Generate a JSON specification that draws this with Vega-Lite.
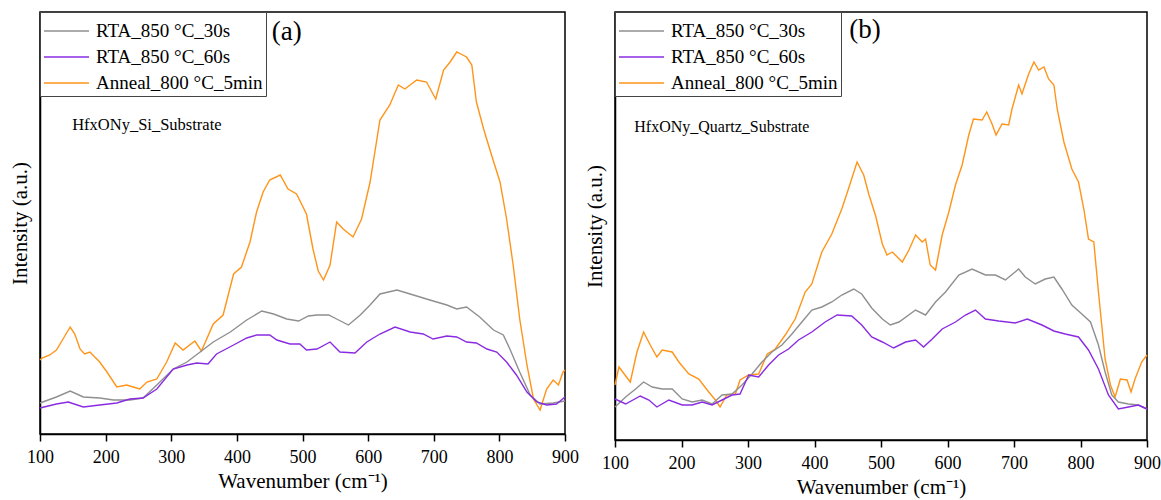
{
  "$schema": "https://vega.github.io/schema/vega-lite/v6.json",
  "padding": {"left": 8, "top": 10, "right": 2, "bottom": 4},
  "background": "white",
  "config": {
    "font": "Liberation Serif",
    "view": {"stroke": "black", "strokeWidth": 1.5},
    "axis": {"domainColor": "black", "domainWidth": 1.5, "grid": false, "labelFont": "Liberation Serif", "titleFont": "Liberation Serif", "labelColor": "black", "titleColor": "black", "titleFontWeight": "normal", "labelFontSize": 18, "titleFontSize": 21, "tickColor": "black", "tickWidth": 1.5},
    "legend": {"labelFont": "Liberation Serif", "labelFontSize": 19, "labelColor": "black", "labelLimit": 400, "symbolType": "M-1,0L2,0", "symbolSize": 900, "symbolStrokeWidth": 1.5, "symbolFillColor": "transparent", "padding": 3, "rowPadding": -3, "labelOffset": 21, "strokeColor": "#444", "fillColor": "white", "orient": "top-left", "offset": 0},
    "line": {"strokeWidth": 1.4}
  },
  "datasets": {
    "a": [
      {"s": "Anneal_800 °C_5min", "x": 100, "y": 74}, {"s": "Anneal_800 °C_5min", "x": 103, "y": 76}, {"s": "Anneal_800 °C_5min", "x": 115, "y": 79}, {"s": "Anneal_800 °C_5min", "x": 125, "y": 84}, {"s": "Anneal_800 °C_5min", "x": 136, "y": 96}, {"s": "Anneal_800 °C_5min", "x": 146, "y": 107}, {"s": "Anneal_800 °C_5min", "x": 153, "y": 100}, {"s": "Anneal_800 °C_5min", "x": 161, "y": 85}, {"s": "Anneal_800 °C_5min", "x": 168, "y": 80}, {"s": "Anneal_800 °C_5min", "x": 176, "y": 82}, {"s": "Anneal_800 °C_5min", "x": 191, "y": 72}, {"s": "Anneal_800 °C_5min", "x": 202, "y": 62}, {"s": "Anneal_800 °C_5min", "x": 217, "y": 47}, {"s": "Anneal_800 °C_5min", "x": 232, "y": 49}, {"s": "Anneal_800 °C_5min", "x": 242, "y": 47}, {"s": "Anneal_800 °C_5min", "x": 252, "y": 45}, {"s": "Anneal_800 °C_5min", "x": 263, "y": 52}, {"s": "Anneal_800 °C_5min", "x": 278, "y": 55}, {"s": "Anneal_800 °C_5min", "x": 293, "y": 72}, {"s": "Anneal_800 °C_5min", "x": 306, "y": 91}, {"s": "Anneal_800 °C_5min", "x": 318, "y": 84}, {"s": "Anneal_800 °C_5min", "x": 336, "y": 93}, {"s": "Anneal_800 °C_5min", "x": 346, "y": 83}, {"s": "Anneal_800 °C_5min", "x": 364, "y": 110}, {"s": "Anneal_800 °C_5min", "x": 379, "y": 119}, {"s": "Anneal_800 °C_5min", "x": 395, "y": 160}, {"s": "Anneal_800 °C_5min", "x": 407, "y": 167}, {"s": "Anneal_800 °C_5min", "x": 420, "y": 192}, {"s": "Anneal_800 °C_5min", "x": 430, "y": 222}, {"s": "Anneal_800 °C_5min", "x": 440, "y": 242}, {"s": "Anneal_800 °C_5min", "x": 450, "y": 254}, {"s": "Anneal_800 °C_5min", "x": 466, "y": 259}, {"s": "Anneal_800 °C_5min", "x": 478, "y": 245}, {"s": "Anneal_800 °C_5min", "x": 491, "y": 240}, {"s": "Anneal_800 °C_5min", "x": 506, "y": 220}, {"s": "Anneal_800 °C_5min", "x": 516, "y": 185}, {"s": "Anneal_800 °C_5min", "x": 524, "y": 163}, {"s": "Anneal_800 °C_5min", "x": 532, "y": 154}, {"s": "Anneal_800 °C_5min", "x": 542, "y": 169}, {"s": "Anneal_800 °C_5min", "x": 552, "y": 212}, {"s": "Anneal_800 °C_5min", "x": 562, "y": 205}, {"s": "Anneal_800 °C_5min", "x": 577, "y": 197}, {"s": "Anneal_800 °C_5min", "x": 590, "y": 215}, {"s": "Anneal_800 °C_5min", "x": 603, "y": 252}, {"s": "Anneal_800 °C_5min", "x": 618, "y": 314}, {"s": "Anneal_800 °C_5min", "x": 633, "y": 329}, {"s": "Anneal_800 °C_5min", "x": 646, "y": 349}, {"s": "Anneal_800 °C_5min", "x": 656, "y": 345}, {"s": "Anneal_800 °C_5min", "x": 664, "y": 349}, {"s": "Anneal_800 °C_5min", "x": 674, "y": 354}, {"s": "Anneal_800 °C_5min", "x": 689, "y": 352}, {"s": "Anneal_800 °C_5min", "x": 703, "y": 335}, {"s": "Anneal_800 °C_5min", "x": 715, "y": 364}, {"s": "Anneal_800 °C_5min", "x": 725, "y": 372}, {"s": "Anneal_800 °C_5min", "x": 735, "y": 382}, {"s": "Anneal_800 °C_5min", "x": 750, "y": 377}, {"s": "Anneal_800 °C_5min", "x": 758, "y": 369}, {"s": "Anneal_800 °C_5min", "x": 765, "y": 332}, {"s": "Anneal_800 °C_5min", "x": 776, "y": 305}, {"s": "Anneal_800 °C_5min", "x": 788, "y": 279}, {"s": "Anneal_800 °C_5min", "x": 801, "y": 252}, {"s": "Anneal_800 °C_5min", "x": 811, "y": 215}, {"s": "Anneal_800 °C_5min", "x": 821, "y": 169}, {"s": "Anneal_800 °C_5min", "x": 831, "y": 115}, {"s": "Anneal_800 °C_5min", "x": 842, "y": 69}, {"s": "Anneal_800 °C_5min", "x": 852, "y": 35}, {"s": "Anneal_800 °C_5min", "x": 862, "y": 24}, {"s": "Anneal_800 °C_5min", "x": 872, "y": 45}, {"s": "Anneal_800 °C_5min", "x": 882, "y": 54}, {"s": "Anneal_800 °C_5min", "x": 890, "y": 49}, {"s": "Anneal_800 °C_5min", "x": 897, "y": 62}, {"s": "Anneal_800 °C_5min", "x": 900, "y": 64},
      {"s": "RTA_850 °C_30s", "x": 100, "y": 31}, {"s": "RTA_850 °C_30s", "x": 125, "y": 37}, {"s": "RTA_850 °C_30s", "x": 146, "y": 43}, {"s": "RTA_850 °C_30s", "x": 166, "y": 37}, {"s": "RTA_850 °C_30s", "x": 191, "y": 36}, {"s": "RTA_850 °C_30s", "x": 212, "y": 34}, {"s": "RTA_850 °C_30s", "x": 237, "y": 34}, {"s": "RTA_850 °C_30s", "x": 257, "y": 36}, {"s": "RTA_850 °C_30s", "x": 278, "y": 49}, {"s": "RTA_850 °C_30s", "x": 303, "y": 65}, {"s": "RTA_850 °C_30s", "x": 324, "y": 72}, {"s": "RTA_850 °C_30s", "x": 344, "y": 82}, {"s": "RTA_850 °C_30s", "x": 364, "y": 92}, {"s": "RTA_850 °C_30s", "x": 390, "y": 102}, {"s": "RTA_850 °C_30s", "x": 415, "y": 114}, {"s": "RTA_850 °C_30s", "x": 438, "y": 123}, {"s": "RTA_850 °C_30s", "x": 456, "y": 120}, {"s": "RTA_850 °C_30s", "x": 476, "y": 115}, {"s": "RTA_850 °C_30s", "x": 494, "y": 113}, {"s": "RTA_850 °C_30s", "x": 509, "y": 118}, {"s": "RTA_850 °C_30s", "x": 522, "y": 119}, {"s": "RTA_850 °C_30s", "x": 540, "y": 119}, {"s": "RTA_850 °C_30s", "x": 552, "y": 115}, {"s": "RTA_850 °C_30s", "x": 570, "y": 109}, {"s": "RTA_850 °C_30s", "x": 588, "y": 119}, {"s": "RTA_850 °C_30s", "x": 603, "y": 129}, {"s": "RTA_850 °C_30s", "x": 618, "y": 140}, {"s": "RTA_850 °C_30s", "x": 644, "y": 144}, {"s": "RTA_850 °C_30s", "x": 669, "y": 139}, {"s": "RTA_850 °C_30s", "x": 694, "y": 134}, {"s": "RTA_850 °C_30s", "x": 720, "y": 129}, {"s": "RTA_850 °C_30s", "x": 735, "y": 125}, {"s": "RTA_850 °C_30s", "x": 750, "y": 127}, {"s": "RTA_850 °C_30s", "x": 770, "y": 117}, {"s": "RTA_850 °C_30s", "x": 791, "y": 104}, {"s": "RTA_850 °C_30s", "x": 806, "y": 99}, {"s": "RTA_850 °C_30s", "x": 816, "y": 85}, {"s": "RTA_850 °C_30s", "x": 831, "y": 62}, {"s": "RTA_850 °C_30s", "x": 847, "y": 39}, {"s": "RTA_850 °C_30s", "x": 862, "y": 30}, {"s": "RTA_850 °C_30s", "x": 882, "y": 31}, {"s": "RTA_850 °C_30s", "x": 900, "y": 33},
      {"s": "RTA_850 °C_60s", "x": 100, "y": 26}, {"s": "RTA_850 °C_60s", "x": 125, "y": 30}, {"s": "RTA_850 °C_60s", "x": 143, "y": 32}, {"s": "RTA_850 °C_60s", "x": 166, "y": 27}, {"s": "RTA_850 °C_60s", "x": 191, "y": 29}, {"s": "RTA_850 °C_60s", "x": 217, "y": 31}, {"s": "RTA_850 °C_60s", "x": 237, "y": 35}, {"s": "RTA_850 °C_60s", "x": 257, "y": 36}, {"s": "RTA_850 °C_60s", "x": 278, "y": 45}, {"s": "RTA_850 °C_60s", "x": 303, "y": 65}, {"s": "RTA_850 °C_60s", "x": 324, "y": 69}, {"s": "RTA_850 °C_60s", "x": 339, "y": 71}, {"s": "RTA_850 °C_60s", "x": 356, "y": 70}, {"s": "RTA_850 °C_60s", "x": 369, "y": 80}, {"s": "RTA_850 °C_60s", "x": 395, "y": 89}, {"s": "RTA_850 °C_60s", "x": 415, "y": 96}, {"s": "RTA_850 °C_60s", "x": 430, "y": 99}, {"s": "RTA_850 °C_60s", "x": 450, "y": 99}, {"s": "RTA_850 °C_60s", "x": 461, "y": 94}, {"s": "RTA_850 °C_60s", "x": 481, "y": 90}, {"s": "RTA_850 °C_60s", "x": 496, "y": 90}, {"s": "RTA_850 °C_60s", "x": 506, "y": 84}, {"s": "RTA_850 °C_60s", "x": 522, "y": 85}, {"s": "RTA_850 °C_60s", "x": 542, "y": 92}, {"s": "RTA_850 °C_60s", "x": 557, "y": 82}, {"s": "RTA_850 °C_60s", "x": 580, "y": 81}, {"s": "RTA_850 °C_60s", "x": 598, "y": 92}, {"s": "RTA_850 °C_60s", "x": 618, "y": 100}, {"s": "RTA_850 °C_60s", "x": 641, "y": 107}, {"s": "RTA_850 °C_60s", "x": 664, "y": 102}, {"s": "RTA_850 °C_60s", "x": 684, "y": 100}, {"s": "RTA_850 °C_60s", "x": 699, "y": 95}, {"s": "RTA_850 °C_60s", "x": 720, "y": 98}, {"s": "RTA_850 °C_60s", "x": 735, "y": 97}, {"s": "RTA_850 °C_60s", "x": 750, "y": 92}, {"s": "RTA_850 °C_60s", "x": 765, "y": 91}, {"s": "RTA_850 °C_60s", "x": 781, "y": 85}, {"s": "RTA_850 °C_60s", "x": 796, "y": 82}, {"s": "RTA_850 °C_60s", "x": 811, "y": 72}, {"s": "RTA_850 °C_60s", "x": 826, "y": 59}, {"s": "RTA_850 °C_60s", "x": 842, "y": 42}, {"s": "RTA_850 °C_60s", "x": 857, "y": 32}, {"s": "RTA_850 °C_60s", "x": 872, "y": 29}, {"s": "RTA_850 °C_60s", "x": 887, "y": 30}, {"s": "RTA_850 °C_60s", "x": 900, "y": 37}
    ],
    "b": [
      {"s": "Anneal_800 °C_5min", "x": 100, "y": 55}, {"s": "Anneal_800 °C_5min", "x": 106, "y": 73}, {"s": "Anneal_800 °C_5min", "x": 115, "y": 65}, {"s": "Anneal_800 °C_5min", "x": 123, "y": 58}, {"s": "Anneal_800 °C_5min", "x": 133, "y": 88}, {"s": "Anneal_800 °C_5min", "x": 143, "y": 108}, {"s": "Anneal_800 °C_5min", "x": 153, "y": 95}, {"s": "Anneal_800 °C_5min", "x": 163, "y": 83}, {"s": "Anneal_800 °C_5min", "x": 171, "y": 90}, {"s": "Anneal_800 °C_5min", "x": 186, "y": 88}, {"s": "Anneal_800 °C_5min", "x": 196, "y": 78}, {"s": "Anneal_800 °C_5min", "x": 211, "y": 66}, {"s": "Anneal_800 °C_5min", "x": 226, "y": 61}, {"s": "Anneal_800 °C_5min", "x": 241, "y": 48}, {"s": "Anneal_800 °C_5min", "x": 251, "y": 40}, {"s": "Anneal_800 °C_5min", "x": 258, "y": 33}, {"s": "Anneal_800 °C_5min", "x": 268, "y": 45}, {"s": "Anneal_800 °C_5min", "x": 281, "y": 46}, {"s": "Anneal_800 °C_5min", "x": 288, "y": 60}, {"s": "Anneal_800 °C_5min", "x": 301, "y": 65}, {"s": "Anneal_800 °C_5min", "x": 316, "y": 66}, {"s": "Anneal_800 °C_5min", "x": 329, "y": 86}, {"s": "Anneal_800 °C_5min", "x": 341, "y": 91}, {"s": "Anneal_800 °C_5min", "x": 356, "y": 105}, {"s": "Anneal_800 °C_5min", "x": 371, "y": 121}, {"s": "Anneal_800 °C_5min", "x": 386, "y": 148}, {"s": "Anneal_800 °C_5min", "x": 396, "y": 156}, {"s": "Anneal_800 °C_5min", "x": 411, "y": 188}, {"s": "Anneal_800 °C_5min", "x": 426, "y": 206}, {"s": "Anneal_800 °C_5min", "x": 441, "y": 231}, {"s": "Anneal_800 °C_5min", "x": 451, "y": 251}, {"s": "Anneal_800 °C_5min", "x": 464, "y": 278}, {"s": "Anneal_800 °C_5min", "x": 474, "y": 265}, {"s": "Anneal_800 °C_5min", "x": 482, "y": 245}, {"s": "Anneal_800 °C_5min", "x": 492, "y": 224}, {"s": "Anneal_800 °C_5min", "x": 502, "y": 196}, {"s": "Anneal_800 °C_5min", "x": 509, "y": 185}, {"s": "Anneal_800 °C_5min", "x": 517, "y": 188}, {"s": "Anneal_800 °C_5min", "x": 532, "y": 178}, {"s": "Anneal_800 °C_5min", "x": 542, "y": 190}, {"s": "Anneal_800 °C_5min", "x": 552, "y": 205}, {"s": "Anneal_800 °C_5min", "x": 562, "y": 198}, {"s": "Anneal_800 °C_5min", "x": 567, "y": 201}, {"s": "Anneal_800 °C_5min", "x": 574, "y": 175}, {"s": "Anneal_800 °C_5min", "x": 582, "y": 170}, {"s": "Anneal_800 °C_5min", "x": 592, "y": 205}, {"s": "Anneal_800 °C_5min", "x": 602, "y": 228}, {"s": "Anneal_800 °C_5min", "x": 612, "y": 255}, {"s": "Anneal_800 °C_5min", "x": 622, "y": 275}, {"s": "Anneal_800 °C_5min", "x": 632, "y": 305}, {"s": "Anneal_800 °C_5min", "x": 639, "y": 321}, {"s": "Anneal_800 °C_5min", "x": 652, "y": 320}, {"s": "Anneal_800 °C_5min", "x": 659, "y": 328}, {"s": "Anneal_800 °C_5min", "x": 667, "y": 316}, {"s": "Anneal_800 °C_5min", "x": 673, "y": 305}, {"s": "Anneal_800 °C_5min", "x": 682, "y": 316}, {"s": "Anneal_800 °C_5min", "x": 692, "y": 315}, {"s": "Anneal_800 °C_5min", "x": 697, "y": 331}, {"s": "Anneal_800 °C_5min", "x": 707, "y": 355}, {"s": "Anneal_800 °C_5min", "x": 712, "y": 346}, {"s": "Anneal_800 °C_5min", "x": 722, "y": 366}, {"s": "Anneal_800 °C_5min", "x": 730, "y": 378}, {"s": "Anneal_800 °C_5min", "x": 737, "y": 370}, {"s": "Anneal_800 °C_5min", "x": 745, "y": 373}, {"s": "Anneal_800 °C_5min", "x": 752, "y": 361}, {"s": "Anneal_800 °C_5min", "x": 760, "y": 355}, {"s": "Anneal_800 °C_5min", "x": 765, "y": 331}, {"s": "Anneal_800 °C_5min", "x": 775, "y": 298}, {"s": "Anneal_800 °C_5min", "x": 787, "y": 271}, {"s": "Anneal_800 °C_5min", "x": 797, "y": 258}, {"s": "Anneal_800 °C_5min", "x": 805, "y": 231}, {"s": "Anneal_800 °C_5min", "x": 812, "y": 201}, {"s": "Anneal_800 °C_5min", "x": 820, "y": 198}, {"s": "Anneal_800 °C_5min", "x": 827, "y": 148}, {"s": "Anneal_800 °C_5min", "x": 837, "y": 81}, {"s": "Anneal_800 °C_5min", "x": 845, "y": 55}, {"s": "Anneal_800 °C_5min", "x": 852, "y": 43}, {"s": "Anneal_800 °C_5min", "x": 860, "y": 61}, {"s": "Anneal_800 °C_5min", "x": 870, "y": 60}, {"s": "Anneal_800 °C_5min", "x": 876, "y": 48}, {"s": "Anneal_800 °C_5min", "x": 882, "y": 61}, {"s": "Anneal_800 °C_5min", "x": 892, "y": 78}, {"s": "Anneal_800 °C_5min", "x": 900, "y": 85},
      {"s": "RTA_850 °C_30s", "x": 100, "y": 33}, {"s": "RTA_850 °C_30s", "x": 116, "y": 43}, {"s": "RTA_850 °C_30s", "x": 131, "y": 51}, {"s": "RTA_850 °C_30s", "x": 143, "y": 58}, {"s": "RTA_850 °C_30s", "x": 156, "y": 53}, {"s": "RTA_850 °C_30s", "x": 171, "y": 51}, {"s": "RTA_850 °C_30s", "x": 186, "y": 51}, {"s": "RTA_850 °C_30s", "x": 201, "y": 41}, {"s": "RTA_850 °C_30s", "x": 216, "y": 38}, {"s": "RTA_850 °C_30s", "x": 231, "y": 40}, {"s": "RTA_850 °C_30s", "x": 246, "y": 36}, {"s": "RTA_850 °C_30s", "x": 261, "y": 45}, {"s": "RTA_850 °C_30s", "x": 276, "y": 46}, {"s": "RTA_850 °C_30s", "x": 291, "y": 55}, {"s": "RTA_850 °C_30s", "x": 306, "y": 66}, {"s": "RTA_850 °C_30s", "x": 321, "y": 78}, {"s": "RTA_850 °C_30s", "x": 336, "y": 88}, {"s": "RTA_850 °C_30s", "x": 351, "y": 95}, {"s": "RTA_850 °C_30s", "x": 366, "y": 106}, {"s": "RTA_850 °C_30s", "x": 381, "y": 118}, {"s": "RTA_850 °C_30s", "x": 396, "y": 130}, {"s": "RTA_850 °C_30s", "x": 411, "y": 133}, {"s": "RTA_850 °C_30s", "x": 426, "y": 138}, {"s": "RTA_850 °C_30s", "x": 441, "y": 145}, {"s": "RTA_850 °C_30s", "x": 459, "y": 151}, {"s": "RTA_850 °C_30s", "x": 471, "y": 146}, {"s": "RTA_850 °C_30s", "x": 486, "y": 132}, {"s": "RTA_850 °C_30s", "x": 502, "y": 121}, {"s": "RTA_850 °C_30s", "x": 514, "y": 115}, {"s": "RTA_850 °C_30s", "x": 527, "y": 118}, {"s": "RTA_850 °C_30s", "x": 552, "y": 130}, {"s": "RTA_850 °C_30s", "x": 567, "y": 125}, {"s": "RTA_850 °C_30s", "x": 582, "y": 138}, {"s": "RTA_850 °C_30s", "x": 597, "y": 148}, {"s": "RTA_850 °C_30s", "x": 617, "y": 165}, {"s": "RTA_850 °C_30s", "x": 637, "y": 171}, {"s": "RTA_850 °C_30s", "x": 657, "y": 165}, {"s": "RTA_850 °C_30s", "x": 672, "y": 165}, {"s": "RTA_850 °C_30s", "x": 687, "y": 160}, {"s": "RTA_850 °C_30s", "x": 707, "y": 171}, {"s": "RTA_850 °C_30s", "x": 717, "y": 163}, {"s": "RTA_850 °C_30s", "x": 732, "y": 156}, {"s": "RTA_850 °C_30s", "x": 747, "y": 161}, {"s": "RTA_850 °C_30s", "x": 760, "y": 163}, {"s": "RTA_850 °C_30s", "x": 772, "y": 151}, {"s": "RTA_850 °C_30s", "x": 787, "y": 135}, {"s": "RTA_850 °C_30s", "x": 802, "y": 126}, {"s": "RTA_850 °C_30s", "x": 815, "y": 118}, {"s": "RTA_850 °C_30s", "x": 827, "y": 95}, {"s": "RTA_850 °C_30s", "x": 837, "y": 68}, {"s": "RTA_850 °C_30s", "x": 847, "y": 45}, {"s": "RTA_850 °C_30s", "x": 857, "y": 38}, {"s": "RTA_850 °C_30s", "x": 872, "y": 36}, {"s": "RTA_850 °C_30s", "x": 887, "y": 35}, {"s": "RTA_850 °C_30s", "x": 900, "y": 31},
      {"s": "RTA_850 °C_60s", "x": 100, "y": 41}, {"s": "RTA_850 °C_60s", "x": 116, "y": 36}, {"s": "RTA_850 °C_60s", "x": 138, "y": 44}, {"s": "RTA_850 °C_60s", "x": 151, "y": 40}, {"s": "RTA_850 °C_60s", "x": 163, "y": 33}, {"s": "RTA_850 °C_60s", "x": 181, "y": 40}, {"s": "RTA_850 °C_60s", "x": 201, "y": 35}, {"s": "RTA_850 °C_60s", "x": 216, "y": 35}, {"s": "RTA_850 °C_60s", "x": 231, "y": 38}, {"s": "RTA_850 °C_60s", "x": 246, "y": 35}, {"s": "RTA_850 °C_60s", "x": 261, "y": 40}, {"s": "RTA_850 °C_60s", "x": 276, "y": 45}, {"s": "RTA_850 °C_60s", "x": 288, "y": 46}, {"s": "RTA_850 °C_60s", "x": 301, "y": 65}, {"s": "RTA_850 °C_60s", "x": 316, "y": 63}, {"s": "RTA_850 °C_60s", "x": 331, "y": 75}, {"s": "RTA_850 °C_60s", "x": 346, "y": 85}, {"s": "RTA_850 °C_60s", "x": 361, "y": 91}, {"s": "RTA_850 °C_60s", "x": 376, "y": 100}, {"s": "RTA_850 °C_60s", "x": 396, "y": 108}, {"s": "RTA_850 °C_60s", "x": 416, "y": 118}, {"s": "RTA_850 °C_60s", "x": 434, "y": 125}, {"s": "RTA_850 °C_60s", "x": 456, "y": 124}, {"s": "RTA_850 °C_60s", "x": 471, "y": 115}, {"s": "RTA_850 °C_60s", "x": 486, "y": 103}, {"s": "RTA_850 °C_60s", "x": 502, "y": 98}, {"s": "RTA_850 °C_60s", "x": 519, "y": 92}, {"s": "RTA_850 °C_60s", "x": 537, "y": 98}, {"s": "RTA_850 °C_60s", "x": 552, "y": 100}, {"s": "RTA_850 °C_60s", "x": 564, "y": 93}, {"s": "RTA_850 °C_60s", "x": 577, "y": 101}, {"s": "RTA_850 °C_60s", "x": 592, "y": 111}, {"s": "RTA_850 °C_60s", "x": 612, "y": 118}, {"s": "RTA_850 °C_60s", "x": 627, "y": 125}, {"s": "RTA_850 °C_60s", "x": 642, "y": 130}, {"s": "RTA_850 °C_60s", "x": 657, "y": 121}, {"s": "RTA_850 °C_60s", "x": 677, "y": 119}, {"s": "RTA_850 °C_60s", "x": 702, "y": 117}, {"s": "RTA_850 °C_60s", "x": 720, "y": 121}, {"s": "RTA_850 °C_60s", "x": 742, "y": 115}, {"s": "RTA_850 °C_60s", "x": 760, "y": 109}, {"s": "RTA_850 °C_60s", "x": 777, "y": 106}, {"s": "RTA_850 °C_60s", "x": 797, "y": 103}, {"s": "RTA_850 °C_60s", "x": 812, "y": 90}, {"s": "RTA_850 °C_60s", "x": 827, "y": 71}, {"s": "RTA_850 °C_60s", "x": 842, "y": 45}, {"s": "RTA_850 °C_60s", "x": 857, "y": 31}, {"s": "RTA_850 °C_60s", "x": 872, "y": 33}, {"s": "RTA_850 °C_60s", "x": 887, "y": 35}, {"s": "RTA_850 °C_60s", "x": 900, "y": 31}
    ]
  },
  "spacing": 3,
  "hconcat": [
    {
      "width": 525,
      "height": 422,
      "layer": [
        {
          "data": {"name": "a"},
          "mark": {"type": "line", "strokeWidth": 1.4},
          "encoding": {
            "x": {"field": "x", "type": "quantitative", "scale": {"domain": [100, 900], "nice": false, "zero": false},
              "axis": {"title": "Wavenumber (cm⁻¹)", "values": [100, 150, 200, 250, 300, 350, 400, 450, 500, 550, 600, 650, 700, 750, 800, 850, 900], "labelExpr": "datum.value % 100 === 0 ? datum.label : ''", "tickSize": {"condition": {"test": "datum.value % 100 === 0", "value": 7}, "value": 4}, "labelPadding": 7, "titlePadding": 4, "labelFlush": false, "labelOverlap": false}},
            "y": {"field": "y", "type": "quantitative", "scale": {"domain": [0, 422], "nice": false},
              "axis": {"title": "Intensity (a.u.)", "ticks": false, "labels": false, "titlePadding": 10}},
            "color": {"field": "s", "type": "nominal", "title": null,
              "scale": {"domain": ["RTA_850 °C_30s", "RTA_850 °C_60s", "Anneal_800 °C_5min"], "range": ["#8f8f8f", "#8a2be2", "#ff9419"]},
              "legend": {"title": null, "orient": "top-left", "offset": 0}}
          }
        },
        {
          "data": {"values": [{"t": "(a)", "x": 476, "y": 402}]},
          "mark": {"type": "text", "fontSize": 27, "font": "Liberation Serif", "color": "black", "baseline": "middle", "align": "center"},
          "encoding": {"x": {"field": "x", "type": "quantitative"}, "y": {"field": "y", "type": "quantitative"}, "text": {"field": "t"}}
        },
        {
          "data": {"values": [{"t": "HfxONy_Si_Substrate", "x": 149, "y": 309}]},
          "mark": {"type": "text", "fontSize": 16.5, "font": "Liberation Serif", "color": "black", "baseline": "middle", "align": "left"},
          "encoding": {"x": {"field": "x", "type": "quantitative"}, "y": {"field": "y", "type": "quantitative"}, "text": {"field": "t"}}
        }
      ]
    },
    {
      "width": 532,
      "height": 428,
      "layer": [
        {
          "data": {"name": "b"},
          "mark": {"type": "line", "strokeWidth": 1.4},
          "encoding": {
            "x": {"field": "x", "type": "quantitative", "scale": {"domain": [100, 900], "nice": false, "zero": false},
              "axis": {"title": "Wavenumber (cm⁻¹)", "values": [100, 150, 200, 250, 300, 350, 400, 450, 500, 550, 600, 650, 700, 750, 800, 850, 900], "labelExpr": "datum.value % 100 === 0 ? datum.label : ''", "tickSize": {"condition": {"test": "datum.value % 100 === 0", "value": 7}, "value": 4}, "labelPadding": 7, "titlePadding": 4, "labelFlush": false, "labelOverlap": false}},
            "y": {"field": "y", "type": "quantitative", "scale": {"domain": [0, 428], "nice": false},
              "axis": {"title": "Intensity (a.u.)", "ticks": false, "labels": false, "titlePadding": 10}},
            "color": {"field": "s", "type": "nominal", "title": null,
              "scale": {"domain": ["RTA_850 °C_30s", "RTA_850 °C_60s", "Anneal_800 °C_5min"], "range": ["#8f8f8f", "#8a2be2", "#ff9419"]},
              "legend": {"title": null, "orient": "top-left", "offset": 0}}
          }
        },
        {
          "data": {"values": [{"t": "(b)", "x": 476, "y": 410}]},
          "mark": {"type": "text", "fontSize": 27, "font": "Liberation Serif", "color": "black", "baseline": "middle", "align": "center"},
          "encoding": {"x": {"field": "x", "type": "quantitative"}, "y": {"field": "y", "type": "quantitative"}, "text": {"field": "t"}}
        },
        {
          "data": {"values": [{"t": "HfxONy_Quartz_Substrate", "x": 129, "y": 313}]},
          "mark": {"type": "text", "fontSize": 16, "font": "Liberation Serif", "color": "black", "baseline": "middle", "align": "left"},
          "encoding": {"x": {"field": "x", "type": "quantitative"}, "y": {"field": "y", "type": "quantitative"}, "text": {"field": "t"}}
        }
      ]
    }
  ],
  "resolve": {"scale": {"color": "independent", "x": "independent", "y": "independent"}, "legend": {"color": "independent"}}
}
